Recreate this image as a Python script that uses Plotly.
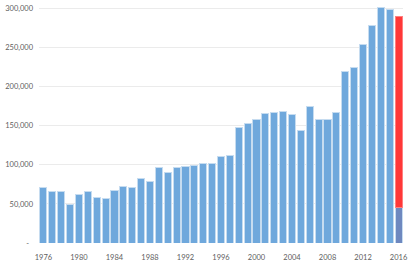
import plotly.graph_objects as go

years = list(range(1976, 2016))
values = [70500, 65400, 65800, 49600, 62400, 65800, 58100, 57300, 67500, 72200,
          71400, 82900, 78600, 96200, 90600, 97000, 97900, 98700, 101700, 101700,
          110300, 112400, 147900, 153400, 157700, 166200, 167100, 168800, 164500, 143600,
          174400, 157700, 158500, 167100, 219700, 224400, 253400, 278200, 301300, 298300]
year_2016 = [2016]
ytd_2016 = [44900]
rest_2016 = [245300]

tick_vals = [0, 50000, 100000, 150000, 200000, 250000, 300000]
tick_text = ["-\u00a0\u00a0", "50,000", "100,000", "150,000", "200,000", "250,000", "300,000"]
x_ticks = list(range(1976, 2017, 4))

blue = "#6FA8DC"
edge = "#C6DCF0"

fig = go.Figure()
fig.add_bar(x=years, y=values, marker=dict(color=blue, line=dict(color=edge, width=1)))
fig.add_bar(x=year_2016, y=ytd_2016, marker=dict(color="#6E88BF", line=dict(color=edge, width=1)))
fig.add_bar(x=year_2016, y=rest_2016, marker=dict(color="#FF3838", line=dict(color="#FF8080", width=1)))

font = dict(family="Lato", size=7.5, color="#606060")
fig.update_layout(
    width=411, height=263,
    margin=dict(l=39, r=8, t=7, b=20),
    paper_bgcolor="white", plot_bgcolor="white",
    barmode="stack", bargap=0.2, showlegend=False,
    font=font,
)
fig.update_xaxes(range=[1975.5, 2016.5], tickvals=x_ticks, ticktext=[str(v) for v in x_ticks],
                 showgrid=False, zeroline=False, showline=False, ticks="",
                 tickfont=font, ticklabelstandoff=8, automargin=False)
fig.update_yaxes(range=[0, 302000], tickvals=tick_vals, ticktext=tick_text,
                 showgrid=True, gridcolor="#EBEBEB", gridwidth=1, zeroline=False,
                 showline=False, ticks="", tickfont=font, ticklabelstandoff=5, automargin=False)
fig.write_html("out.html")
